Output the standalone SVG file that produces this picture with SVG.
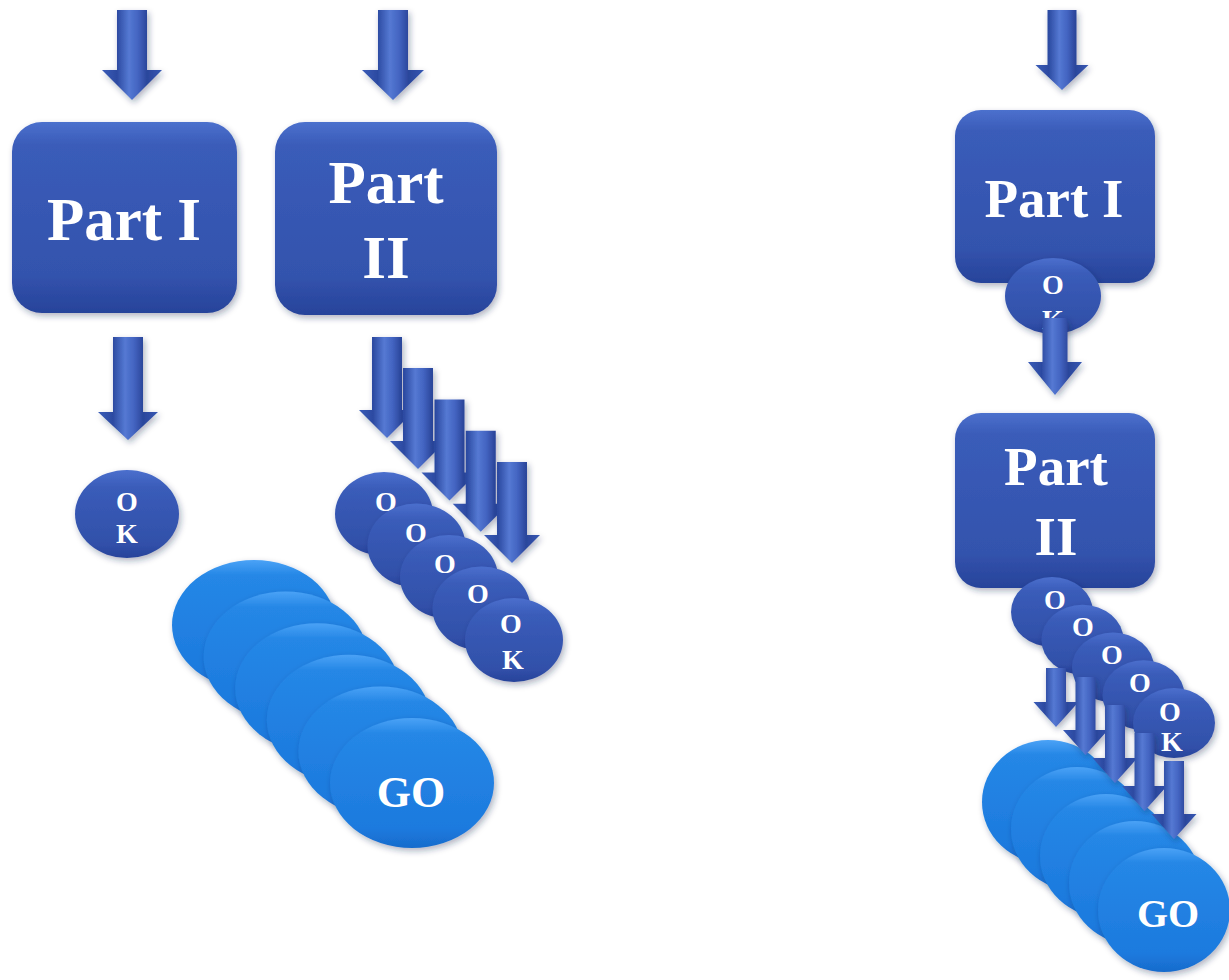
<svg xmlns="http://www.w3.org/2000/svg" width="1229" height="980" viewBox="0 0 1229 980">
  <defs>
    <!-- shared fills -->
    <linearGradient id="boxFill" x1="0" y1="0" x2="0" y2="1">
      <stop offset="0" stop-color="#4c70cd"/>
      <stop offset="0.12" stop-color="#3a5cb9"/>
      <stop offset="0.8" stop-color="#3353ad"/>
      <stop offset="1" stop-color="#27439a"/>
    </linearGradient>
    <linearGradient id="okFill" x1="0" y1="0" x2="0" y2="1">
      <stop offset="0" stop-color="#4b6fcd"/>
      <stop offset="0.2" stop-color="#3a5cb9"/>
      <stop offset="0.85" stop-color="#3150a9"/>
      <stop offset="1" stop-color="#27429a"/>
    </linearGradient>
    <linearGradient id="goFill" x1="0" y1="0" x2="0" y2="1">
      <stop offset="0" stop-color="#4aa2f6"/>
      <stop offset="0.12" stop-color="#2587e6"/>
      <stop offset="0.85" stop-color="#1d7ade"/>
      <stop offset="1" stop-color="#176bcc"/>
    </linearGradient>
    <linearGradient id="arrowFill" x1="0" y1="0" x2="1" y2="0">
      <stop offset="0" stop-color="#3a5cb8"/>
      <stop offset="0.25" stop-color="#2c4aa1"/>
      <stop offset="0.45" stop-color="#5579d3"/>
      <stop offset="0.6" stop-color="#4364c1"/>
      <stop offset="0.75" stop-color="#2b469b"/>
      <stop offset="1" stop-color="#3557b3"/>
    </linearGradient>
    <filter id="shadow" x="-25%" y="-25%" width="150%" height="160%">
      <feDropShadow dx="2" dy="3" stdDeviation="3" flood-color="#1a2850" flood-opacity="0.35"/>
    </filter>
    <style>
      .box { fill: url(#boxFill); filter: url(#shadow); }
      .ok { fill: url(#okFill); filter: url(#shadow); }
      .go { fill: url(#goFill); filter: url(#shadow); }
      .arrow { fill: url(#arrowFill); filter: url(#shadow); }
      .lbl { fill: #ffffff; font-family: "Liberation Serif", "Times New Roman", serif; font-weight: bold; text-anchor: middle; }
      .big { font-size: 61px; }
      .mid { font-size: 55px; }
      .small { font-size: 28px; }
      .go-t { font-size: 44px; }
    </style>
  </defs>

  <rect width="1229" height="980" fill="#ffffff"/>

  <g id="nodes">
    <!-- left column: GO stack -->
    <g id="go-left">
      <ellipse class="go" cx="254" cy="625" rx="82" ry="65"/>
      <ellipse class="go" cx="285.6" cy="656.6" rx="82" ry="65"/>
      <ellipse class="go" cx="317.2" cy="688.2" rx="82" ry="65"/>
      <ellipse class="go" cx="348.8" cy="719.8" rx="82" ry="65"/>
      <ellipse class="go" cx="380.4" cy="751.4" rx="82" ry="65"/>
      <ellipse class="go" cx="412" cy="783" rx="82" ry="65"/>
      <text class="lbl go-t" x="411" y="807">GO</text>
    </g>

    <g id="part1-left">
      <rect class="box" x="12" y="122" width="225" height="191" rx="30"/>
      <text class="lbl big" x="124" y="240">Part I</text>
    </g>
    <g id="part2-left">
      <rect class="box" x="275" y="122" width="222" height="193" rx="30"/>
      <text class="lbl big" x="386" y="203">Part</text>
      <text class="lbl big" x="386" y="278">II</text>
    </g>

    <g id="ok-left">
      <ellipse class="ok" cx="127" cy="514" rx="52" ry="44"/>
      <text class="lbl small" x="127" y="511">O</text>
      <text class="lbl small" x="127" y="543">K</text>
    </g>

    <!-- stacked OK tokens under Part II -->
    <g id="ok-stack-left">
      <ellipse class="ok" cx="384" cy="514" rx="49" ry="42"/>
      <text class="lbl small" x="386" y="511">O</text>
      <ellipse class="ok" cx="416.5" cy="545.5" rx="49" ry="42"/>
      <text class="lbl small" x="416" y="542">O</text>
      <ellipse class="ok" cx="449" cy="577" rx="49" ry="42"/>
      <text class="lbl small" x="445" y="573">O</text>
      <ellipse class="ok" cx="481.5" cy="608.5" rx="49" ry="42"/>
      <text class="lbl small" x="478" y="603">O</text>
      <ellipse class="ok" cx="514" cy="640" rx="49" ry="42"/>
      <text class="lbl small" x="511" y="633">O</text>
      <text class="lbl small" x="513" y="669">K</text>
    </g>

    <!-- right column -->
    <g id="go-right">
      <ellipse class="go" cx="1048" cy="802" rx="66" ry="62"/>
      <ellipse class="go" cx="1077" cy="829" rx="66" ry="62"/>
      <ellipse class="go" cx="1106" cy="856" rx="66" ry="62"/>
      <ellipse class="go" cx="1135" cy="883" rx="66" ry="62"/>
      <ellipse class="go" cx="1164" cy="910" rx="66" ry="62"/>
      <text class="lbl" x="1168" y="927" font-size="40">GO</text>
    </g>

    <g id="part1-right">
      <rect class="box" x="955" y="110" width="200" height="173" rx="26"/>
      <text class="lbl mid" x="1054" y="217">Part I</text>
    </g>
    <g id="ok-right">
      <ellipse class="ok" cx="1053" cy="296" rx="48" ry="38"/>
      <text class="lbl small" x="1053" y="294">O</text>
      <text class="lbl small" x="1053" y="329">K</text>
    </g>

    <g id="part2-right">
      <rect class="box" x="955" y="413" width="200" height="175" rx="26"/>
      <text class="lbl mid" x="1056" y="485">Part</text>
      <text class="lbl mid" x="1056" y="555">II</text>
    </g>

    <g id="ok-stack-right">
      <ellipse class="ok" cx="1052" cy="612" rx="41" ry="35"/>
      <text class="lbl small" x="1055" y="609">O</text>
      <ellipse class="ok" cx="1082.5" cy="639.75" rx="41" ry="35"/>
      <text class="lbl small" x="1083" y="636">O</text>
      <ellipse class="ok" cx="1113" cy="667.5" rx="41" ry="35"/>
      <text class="lbl small" x="1112" y="664">O</text>
      <ellipse class="ok" cx="1143.5" cy="695.25" rx="41" ry="35"/>
      <text class="lbl small" x="1140" y="692">O</text>
      <ellipse class="ok" cx="1174" cy="723" rx="41" ry="35"/>
      <text class="lbl small" x="1170" y="721">O</text>
      <text class="lbl small" x="1172" y="751">K</text>
    </g>
  </g>

  <g id="connectors">
    <!-- left column -->
    <path class="arrow" d="M117,10 H147 V70 H162 L132,100 L102,70 H117 Z"/>
    <path class="arrow" d="M378,10 H408 V70 H424 L393,100 L362,70 H378 Z"/>
    <path class="arrow" d="M113,337 H143 V412 H158 L128,440 L98,412 H113 Z"/>
    <path class="arrow" d="M372,337 H402 V410 H415 L387,438 L359,410 H372 Z"/>
    <path class="arrow" d="M403,368 H433 V441 H446 L418,469 L390,441 H403 Z"/>
    <path class="arrow" d="M434.5,399.5 H464.5 V472.5 H477.5 L449.5,500.5 L421.5,472.5 H434.5 Z"/>
    <path class="arrow" d="M465.75,430.75 H495.75 V503.75 H508.75 L480.75,531.75 L452.75,503.75 H465.75 Z"/>
    <path class="arrow" d="M497,462 H527 V535 H540 L512,563 L484,535 H497 Z"/>
    <!-- right column -->
    <path class="arrow" d="M1047.5,10 H1076.5 V65 H1088.5 L1062,90 L1035.5,65 H1047.5 Z"/>
    <path class="arrow" d="M1042.5,318 H1067.5 V362 H1082 L1055,395 L1028,362 H1042.5 Z"/>
    <path class="arrow" d="M1046,668 H1066 V702 H1078.5 L1056,727 L1033.5,702 H1046 Z"/>
    <path class="arrow" d="M1075.5,677 H1095.5 V730 H1108 L1085.5,755 L1063,730 H1075.5 Z"/>
    <path class="arrow" d="M1105,705 H1125 V758 H1137.5 L1115,783 L1092.5,758 H1105 Z"/>
    <path class="arrow" d="M1134.5,733 H1154.5 V786 H1167 L1144.5,811 L1122,786 H1134.5 Z"/>
    <path class="arrow" d="M1164,761 H1184 V814 H1196.5 L1174,839 L1151.5,814 H1164 Z"/>
  </g>
</svg>
